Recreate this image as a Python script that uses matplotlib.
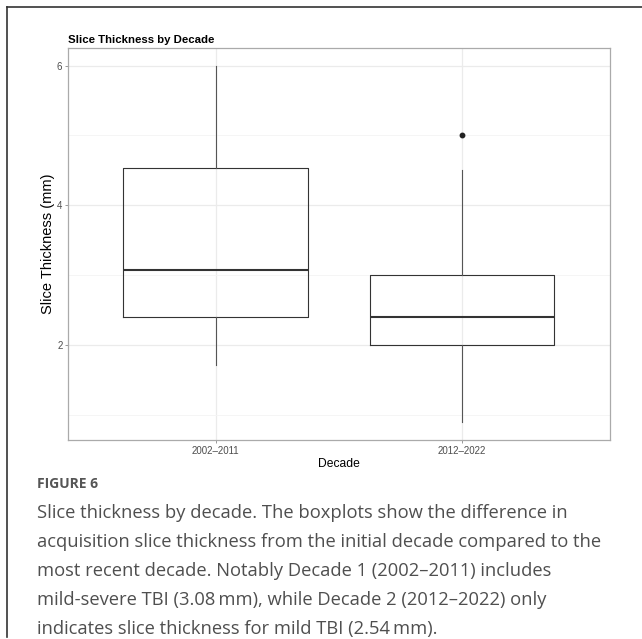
import matplotlib.pyplot as plt
from matplotlib.lines import Line2D

decades = ['2002–2011', '2012–2022']
whislo = [1.72, 0.9]
q1 = [2.4, 2.0]
med = [3.075, 2.4]
q3 = [4.54, 3.0]
whishi = [6.0, 4.5]
fliers = [[], [5.0]]

caption_head = 'FIGURE 6'
caption_lines = [
    'Slice thickness by decade. The boxplots show the difference in',
    'acquisition slice thickness from the initial decade compared to the',
    'most recent decade. Notably Decade 1 (2002\u20132011) includes',
    'mild-severe TBI (3.08\u2009mm), while Decade 2 (2012\u20132022) only',
    'indicates slice thickness for mild TBI (2.54\u2009mm).',
]

W, H = 642, 639
fig = plt.figure(figsize=(W / 100, H / 100), dpi=100)
fig.patch.set_facecolor('white')

ax = fig.add_axes([68 / W, 1 - 440 / H, (609.5 - 68) / W, (440 - 47.7) / H])

stats = []
for i in range(len(decades)):
    stats.append(dict(label=decades[i], whislo=whislo[i], q1=q1[i], med=med[i],
                      q3=q3[i], whishi=whishi[i], fliers=fliers[i]))

ax.bxp(stats, positions=[1, 2], widths=0.75, showcaps=False,
       boxprops=dict(color='#333333', linewidth=0.8),
       whiskerprops=dict(color='#555555', linewidth=0.8),
       medianprops=dict(color='#333333', linewidth=1.5),
       flierprops=dict(marker='o', markersize=3.2, markerfacecolor='#222222',
                       markeredgecolor='#222222'))

ax.set_xlim(0.4, 2.6)
ax.set_ylim(0.645, 6.255)
ax.set_yticks([2, 4, 6])
ax.set_yticks([1, 3, 5], minor=True)
ax.set_xticks([1, 2])
ax.set_xticklabels(decades)

# ggplot-like bw theme
ax.set_axisbelow(True)
ax.grid(True, which='major', color='#EBEBEB', linewidth=0.9)
ax.grid(True, which='minor', axis='y', color='#F4F4F4', linewidth=0.6)
for s in ax.spines.values():
    s.set_color('#AAAAAA')
    s.set_linewidth(0.9)
ax.tick_params(axis='both', which='major', length=2.5, width=0.6, color='#888888',
               labelsize=7, labelcolor='#4D4D4D', pad=1.5)
ax.tick_params(axis='y', which='minor', length=0)
for lab in ax.get_xticklabels() + ax.get_yticklabels():
    lab.set_family('Liberation Sans')

ax.set_xlabel('Decade', fontsize=8.7, family='Liberation Sans', labelpad=2)
ax.set_ylabel('Slice Thickness (mm)', fontsize=10.5, family='Liberation Sans', labelpad=1.5)

fig.text(68 / W, 1 - 43 / H, 'Slice Thickness by Decade', fontsize=8.2,
         fontweight='bold', family='Liberation Sans', va='baseline', ha='left')

# outer frame, left and top edges
fig.add_artist(Line2D([7 / W, 7 / W], [1 - 7 / H, 1 - 637 / H], color='#333333',
                      linewidth=1.2, transform=fig.transFigure))
fig.add_artist(Line2D([7 / W, 1.0], [1 - 7 / H, 1 - 7 / H], color='#333333',
                      linewidth=1.2, transform=fig.transFigure))

fig.text(37 / W, 1 - 488 / H, caption_head, fontsize=10, fontweight='bold',
         family='Open Sans', color='#555555', va='baseline', ha='left')
for k, line in enumerate(caption_lines):
    fig.text(37 / W, 1 - (518 + 29 * k) / H, line, fontsize=13.2,
             family='Open Sans', color='#4F4F4F', va='baseline', ha='left')

fig.savefig('out.png', dpi=100)
